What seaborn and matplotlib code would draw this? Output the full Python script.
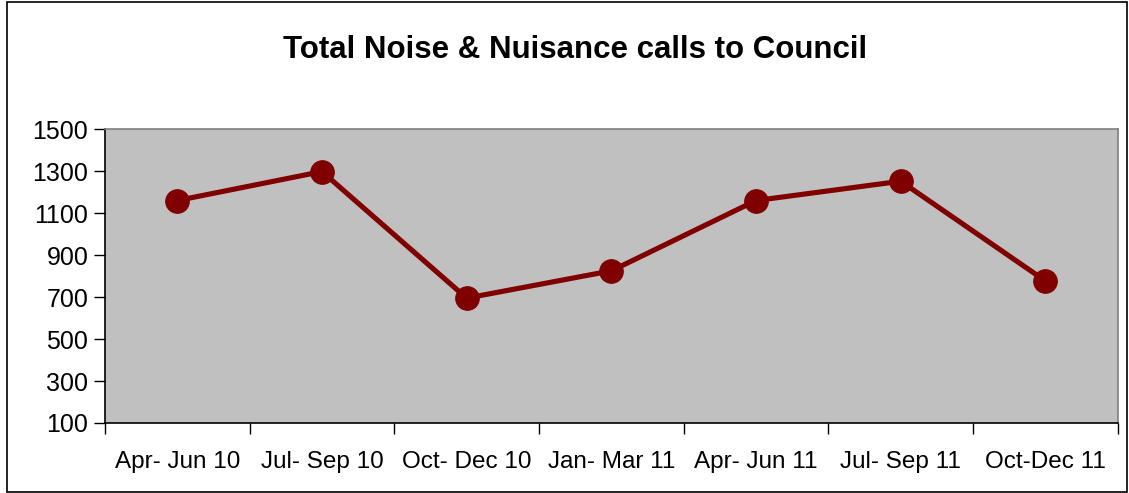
import matplotlib
matplotlib.use("Agg")
import matplotlib.pyplot as plt
import numpy as np
import pandas as pd
import seaborn as sns
from matplotlib.patches import Rectangle

# data
quarters = ["Apr- Jun 10", "Jul- Sep 10", "Oct- Dec 10", "Jan- Mar 11",
            "Apr- Jun 11", "Jul- Sep 11", "Oct-Dec 11"]
calls = [1160, 1298, 695, 825, 1160, 1252, 777]
y_ticks = [100, 300, 500, 700, 900, 1100, 1300, 1500]

sns.set_theme(style="white")
plt.rcParams["font.family"] = ["Liberation Sans", "DejaVu Sans"]
plt.rcParams["text.color"] = "black"
plt.rcParams["xtick.color"] = "black"
plt.rcParams["ytick.color"] = "black"
plt.rcParams["xtick.labelcolor"] = "black"
plt.rcParams["ytick.labelcolor"] = "black"

df = pd.DataFrame({"pos": np.arange(len(quarters)), "calls": calls})

fig = plt.figure(figsize=(11.29, 4.93), dpi=100)
ax = fig.add_axes([0.093, 0.142, 0.897, 0.596])

sns.lineplot(data=df, x="pos", y="calls", ax=ax, color="#800000",
             linewidth=3.7, marker="o", markersize=17,
             markeredgecolor="#800000", markerfacecolor="#800000")

ax.set_facecolor("#C0C0C0")
ax.set_xlim(-0.5, len(quarters) - 0.5)
ax.set_ylim(100, 1500)
ax.set_yticks(y_ticks)
ax.set_yticklabels([str(v) for v in y_ticks], fontsize=18)

ax.set_xticks(np.arange(len(quarters)))
ax.set_xticklabels(quarters, fontsize=17.5)
ax.set_xticks(np.arange(len(quarters) + 1) - 0.5, minor=True)
ax.tick_params(axis="x", which="major", length=0, pad=20)
ax.tick_params(axis="x", which="minor", length=8, width=1, color="black",
               direction="out", bottom=True)
ax.tick_params(axis="y", length=8, width=1, color="black", direction="out",
               left=True, pad=4)
ax.set_xlabel("")
ax.set_ylabel("")

for side in ["left", "bottom"]:
    ax.spines[side].set_color("black")
    ax.spines[side].set_linewidth(1.2)
for side in ["top", "right"]:
    ax.spines[side].set_color("#808080")
    ax.spines[side].set_linewidth(1.2)

fig.text(575 / 1129, 1 - 50 / 493, "Total Noise & Nuisance calls to Council",
         ha="center", va="center", fontsize=22.5, fontweight="bold",
         color="black")

# outer chart frame
fig.patches.append(Rectangle((7 / 1129, 0.002), 1120 / 1129, 0.994,
                             transform=fig.transFigure, fill=False,
                             edgecolor="black", linewidth=1.2))

fig.savefig("out.png", dpi=100)
plt.close(fig)
